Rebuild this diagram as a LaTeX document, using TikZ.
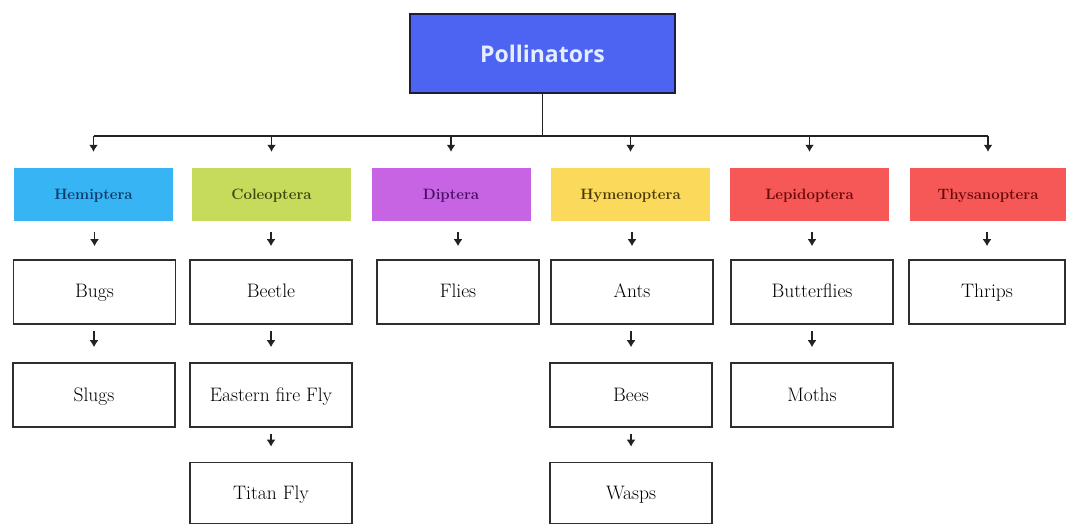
\documentclass[tikz,border=0pt]{standalone}
\usepackage{fontspec}
\newfontfamily\headfont{Open Sans}
\usetikzlibrary{arrows.meta,positioning}
\definecolor{polblue}{HTML}{4D63F2}
\definecolor{polline}{HTML}{1C1D3C}
\definecolor{poltext}{HTML}{E4EEFF}
\definecolor{hemfill}{HTML}{36B4F4}
\definecolor{hemtext}{HTML}{0E3A6A}
\definecolor{colfill}{HTML}{C6DB5C}
\definecolor{coltext}{HTML}{3C4810}
\definecolor{dipfill}{HTML}{C764E3}
\definecolor{diptext}{HTML}{4A0E62}
\definecolor{hymfill}{HTML}{FAD95B}
\definecolor{hymtext}{HTML}{4A3808}
\definecolor{lepfill}{HTML}{F65858}
\definecolor{leptext}{HTML}{6A0808}
\definecolor{boxline}{HTML}{2E2E2E}
\definecolor{linegray}{HTML}{222222}

\begin{document}
\begin{tikzpicture}[x=1pt,y=-1pt,
	order/.style={minimum width=159pt,minimum height=53pt,inner sep=0pt,text height=10pt,text depth=0pt,font=\fontsize{15}{17}\selectfont\bfseries},
	insect/.style={draw=boxline,line width=1.6pt,fill=white,minimum width=162pt,minimum height=64pt,inner sep=0pt,text height=12pt,text depth=0pt,font=\fontsize{19.5}{22}\selectfont},
	link/.style={line width=1.4pt,draw=linegray},
	tip/.style={link,-{Latex[length=7pt,width=9pt]}}]
	\useasboundingbox (0,0) rectangle (1067,526);
	% top box
	\node[draw=polline,line width=1.5pt,fill=polblue,minimum width=265pt,minimum height=79pt,
		font=\headfont\bfseries\fontsize{23}{26}\selectfont,text=poltext] (pol) at (542.5,53.5) {Pollinators};
	% orders
	\node[order,fill=hemfill,text=hemtext] (hem) at (93.5,194.5) {Hemiptera};
	\node[order,fill=colfill,text=coltext] (col) at (271.5,194.5) {Coleoptera};
	\node[order,fill=dipfill,text=diptext] (dip) at (451,194.5) {Diptera};
	\node[order,fill=hymfill,text=hymtext] (hym) at (630.5,194.5) {Hymenoptera};
	\node[order,fill=lepfill,text=leptext] (lep) at (809.5,194.5) {Lepidoptera};
	\node[order,fill=lepfill,text=leptext,minimum width=156pt] (thy) at (988,194.5) {Thysanoptera};
	% first row
	\node[insect] (bugs) at (94.5,292) {Bugs};
	\node[insect] (beetle) at (271,292) {Beetle};
	\node[insect] (flies) at (458,292) {Flies};
	\node[insect] (ants) at (632,292) {Ants};
	\node[insect] (butter) at (812,292) {Butterflies};
	\node[insect,minimum width=156pt] (thrips) at (987,292) {Thrips};
	% second row
	\node[insect] (slugs) at (94,395) {Slugs};
	\node[insect] (eastern) at (271,395) {Eastern fire Fly};
	\node[insect] (bees) at (631,395) {Bees};
	\node[insect] (moths) at (812,395) {Moths};
	% third row
	\node[insect,minimum height=61pt] (titan) at (271,493) {Titan Fly};
	\node[insect,minimum height=61pt] (wasps) at (631,493) {Wasps};
	% bus
	\coordinate (bus) at (542.5,136);
	\draw[link] (pol.south) -- (bus);
	\draw[link] (hem.north |- bus) -- (thy.north |- bus);
	\foreach \n in {hem,col,dip,hym,lep,thy}
		\draw[tip,shorten >=16pt] (\n.north |- bus) -- (\n.north);
	% short arrows
	\foreach \a/\b in {hem/bugs,col/beetle,dip/flies,hym/ants,lep/butter,thy/thrips}
		\draw[tip,shorten <=11pt,shorten >=13pt] (\a.south -| \b.north) -- (\b.north);
	\foreach \a/\b in {bugs/slugs,beetle/eastern,ants/bees,butter/moths,eastern/titan,bees/wasps}
		\draw[tip,shorten <=6pt,shorten >=15pt] (\a.south -| \b.north) -- (\b.north);
\end{tikzpicture}
\end{document}
